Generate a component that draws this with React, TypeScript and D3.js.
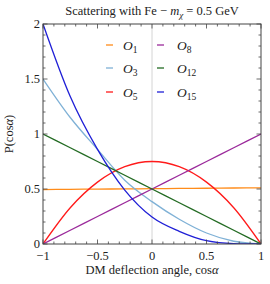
import React, { useEffect, useRef } from 'react';
import * as d3 from 'd3';

// cos(alpha) sample points
const xs = [-1, -0.75, -0.5, -0.25, 0, 0.25, 0.5, 0.75, 1];
const o1 = [0.495, 0.497, 0.499, 0.501, 0.503, 0.505, 0.507, 0.509, 0.51];
const o3 = [1.5, 1.15, 0.86, 0.58, 0.385, 0.225, 0.1, 0.025, 0];
const o5 = [0, 0.33, 0.5625, 0.703, 0.75, 0.703, 0.5625, 0.33, 0];
const o8 = [0, 0.125, 0.25, 0.375, 0.5, 0.625, 0.75, 0.875, 1];
const o12 = [1, 0.875, 0.75, 0.625, 0.5, 0.375, 0.25, 0.125, 0];
const o15 = [2, 1.34, 0.86, 0.49, 0.245, 0.115, 0.03, 0.004, 0];

const seriesNames = ['1', '3', '5', '8', '12', '15'];
const seriesValues = [o1, o3, o5, o8, o12, o15];
const seriesColors = ['#ff8c1a', '#7fb1d6', '#ff1a1a', '#9b2a9b', '#236b23', '#1f1fd6'];

const xTicks = [-1, -0.5, 0, 0.5, 1];
const xTickLabels = ['\u22121', '\u22120.5', '0', '0.5', '1'];
const yTicks = [0, 0.5, 1, 1.5, 2];
const yTickLabels = ['0', '0.5', '1', '1.5', '2'];

function App() {
  const ref = useRef<SVGSVGElement>(null);

  useEffect(() => {
    if (!ref.current) return;
    const svg = d3.select(ref.current);
    svg.selectAll('*').remove();

    const W = 270, H = 284;
    const m = { top: 24, right: 9, bottom: 40, left: 43 };
    const font = '"Liberation Serif", "DejaVu Serif", serif';

    const x = d3.scaleLinear().domain([-1, 1]).range([m.left, W - m.right]);
    const y = d3.scaleLinear().domain([0, 2]).range([H - m.bottom, m.top]);

    // gridline at 0
    svg.append('line')
      .attr('x1', x(0)).attr('x2', x(0))
      .attr('y1', y(0)).attr('y2', y(2))
      .attr('stroke', '#d4d4d4').attr('stroke-width', 1);

    // curves
    const line = d3.line<number>()
      .x((_, i) => x(xs[i]))
      .y(d => y(d))
      .curve(d3.curveMonotoneX);

    svg.append('clipPath').attr('id', 'clip')
      .append('rect').attr('x', m.left).attr('y', m.top - 1)
      .attr('width', W - m.left - m.right).attr('height', H - m.top - m.bottom + 1);
    const g = svg.append('g').attr('clip-path', 'url(#clip)');

    seriesValues.forEach((vals, i) => {
      g.append('path')
        .attr('d', line(vals))
        .attr('fill', 'none')
        .attr('stroke', seriesColors[i])
        .attr('stroke-width', 1.3);
    });

    // frame
    svg.append('rect')
      .attr('x', m.left).attr('y', m.top)
      .attr('width', W - m.left - m.right).attr('height', H - m.top - m.bottom)
      .attr('fill', 'none').attr('stroke', '#444').attr('stroke-width', 1);

    // ticks (inward, all sides)
    const minorX = d3.range(-10, 11).map(d => d / 10);
    const minorY = d3.range(0, 21).map(d => d / 10);
    const tick = svg.append('g').attr('stroke', '#444').attr('stroke-width', 0.8);
    minorX.forEach(v => {
      const major = xTicks.some(t => Math.abs(t - v) < 1e-9);
      const len = major ? 4.5 : 2.5;
      tick.append('line').attr('x1', x(v)).attr('x2', x(v))
        .attr('y1', y(0)).attr('y2', y(0) - len);
      tick.append('line').attr('x1', x(v)).attr('x2', x(v))
        .attr('y1', y(2)).attr('y2', y(2) + len);
    });
    minorY.forEach(v => {
      const major = yTicks.some(t => Math.abs(t - v) < 1e-9);
      const len = major ? 4.5 : 2.5;
      tick.append('line').attr('y1', y(v)).attr('y2', y(v))
        .attr('x1', x(-1)).attr('x2', x(-1) + len);
      tick.append('line').attr('y1', y(v)).attr('y2', y(v))
        .attr('x1', x(1)).attr('x2', x(1) - len);
    });

    // tick labels
    xTicks.forEach((v, i) => {
      svg.append('text')
        .attr('x', x(v)).attr('y', y(0) + 16)
        .attr('text-anchor', 'middle')
        .style('font-family', font).style('font-size', '12.5px').attr('fill', '#222')
        .text(xTickLabels[i]);
    });
    yTicks.forEach((v, i) => {
      svg.append('text')
        .attr('x', m.left - 3).attr('y', y(v) + 3.5)
        .attr('text-anchor', 'end')
        .style('font-family', font).style('font-size', '12.5px').attr('fill', '#222')
        .text(yTickLabels[i]);
    });

    // title
    const title = svg.append('text')
      .attr('x', 152).attr('y', 15)
      .attr('text-anchor', 'middle')
      .style('font-family', font).style('font-size', '12.5px').attr('fill', '#222');
    title.append('tspan').text('Scattering with Fe \u2212 ');
    title.append('tspan').style('font-style', 'italic').text('m');
    title.append('tspan').style('font-style', 'italic').style('font-size', '9px')
      .attr('dy', 3).text('\u03c7');
    title.append('tspan').attr('dy', -3).text(' = 0.5 GeV');

    // axis titles
    const xl = svg.append('text')
      .attr('x', 152).attr('y', 274)
      .attr('text-anchor', 'middle')
      .style('font-family', font).style('font-size', '12.5px').attr('fill', '#222');
    xl.append('tspan').text('DM deflection angle, cos');
    xl.append('tspan').style('font-style', 'italic').text('\u03b1');

    const yl = svg.append('text')
      .attr('transform', `translate(13,${y(1)}) rotate(-90)`)
      .attr('text-anchor', 'middle')
      .style('font-family', font).style('font-size', '12.5px').attr('fill', '#222');
    yl.append('tspan').text('P(cos');
    yl.append('tspan').style('font-style', 'italic').text('\u03b1');
    yl.append('tspan').text(')');

    // legend, two columns
    const rows = [45, 68, 92];
    const cols = [{ lx: 106, tx: 123 }, { lx: 157, tx: 177 }];
    seriesNames.forEach((name, i) => {
      const c = cols[Math.floor(i / 3)];
      const r = rows[i % 3];
      svg.append('line')
        .attr('x1', c.lx).attr('x2', c.lx + 7)
        .attr('y1', r).attr('y2', r)
        .attr('stroke', seriesColors[i]).attr('stroke-width', 1.3);
      const t = svg.append('text')
        .attr('x', c.tx).attr('y', r + 4.5)
        .style('font-family', font).style('font-size', '13.5px').attr('fill', '#222');
      t.append('tspan').style('font-style', 'italic').text('O');
      t.append('tspan').style('font-size', '9.5px').attr('dy', 3).text(name);
    });
  }, []);

  return (
    <svg ref={ref} width={270} height={284}
      style={{ position: 'absolute', left: 0, top: 0, background: '#fff' }} />
  );
}

export default App;
